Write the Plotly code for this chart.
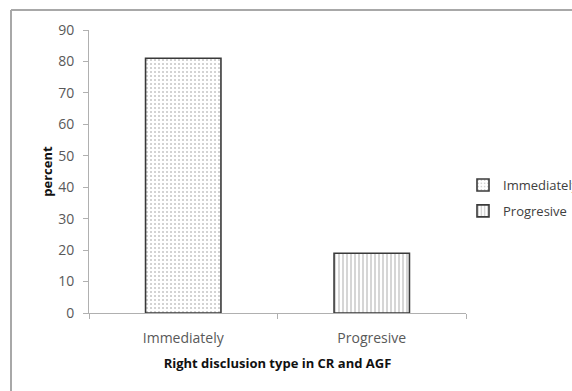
import plotly.graph_objects as go

categories = ["Immediately", "Progresive"]
values = [81, 19]
legend_names = ["Immediately", "Progresive"]
patterns = [".", "|"]

fig = go.Figure()
for i, (cat, val) in enumerate(zip(categories, values)):
    fig.add_trace(go.Bar(
        x=[cat], y=[val], name=legend_names[i], legendgroup=f"g{i}",
        width=0.4,
        marker=dict(
            color="white",
            line=dict(color="#3a3a3a", width=1.6),
            pattern=dict(shape=patterns[i], fgcolor="#8a8a8a", bgcolor="white",
                         size=4, solidity=0.35 if i == 1 else 0.2),
        ),
    ))

# frame lines around the chart
L, R, T, B = 89, 466, 30, 313
def px_x(p): return (p - L) / (R - L)
def px_y(p): return (B - p) / (B - T)

fig.add_shape(type="line", xref="paper", yref="paper",
              x0=px_x(11), x1=px_x(11), y0=px_y(10), y1=px_y(400),
              line=dict(color="#a8a8a8", width=2))
fig.add_shape(type="line", xref="paper", yref="paper",
              x0=px_x(11), x1=px_x(600), y0=px_y(10), y1=px_y(10),
              line=dict(color="#a8a8a8", width=2))

fig.update_layout(
    width=572, height=391,
    margin=dict(l=L, r=572 - R, t=T, b=391 - B, autoexpand=False),
    paper_bgcolor="white", plot_bgcolor="white",
    barmode="overlay",
    font=dict(family="Open Sans", color="#595959"),
    showlegend=True,
    legend=dict(x=px_x(463), y=px_y(170), xanchor="left", yanchor="top",
                font=dict(size=13, color="#404040"), tracegroupgap=6,
                bgcolor="rgba(0,0,0,0)"),
    xaxis=dict(
        type="category", showline=True, linecolor="#b0b0b0", linewidth=1,
        ticks="outside", tickson="boundaries", ticklen=5, tickcolor="#b0b0b0",
        tickfont=dict(size=14, color="#595959"), ticklabelstandoff=12,
        title=dict(text="<b>Right disclusion type in CR and AGF</b>",
                   font=dict(size=13, color="#111111"), standoff=13),
        showgrid=False,
    ),
    yaxis=dict(
        range=[0, 90], dtick=10, showline=True, linecolor="#b0b0b0", linewidth=1,
        ticks="outside", ticklen=5, tickcolor="#b0b0b0",
        tickfont=dict(size=14, color="#595959"), ticklabelstandoff=6,
        title=dict(text="<b>percent</b>", font=dict(size=13, color="#111111"),
                   standoff=2),
        showgrid=False, zeroline=False,
    ),
)

fig.write_html("out.html")
